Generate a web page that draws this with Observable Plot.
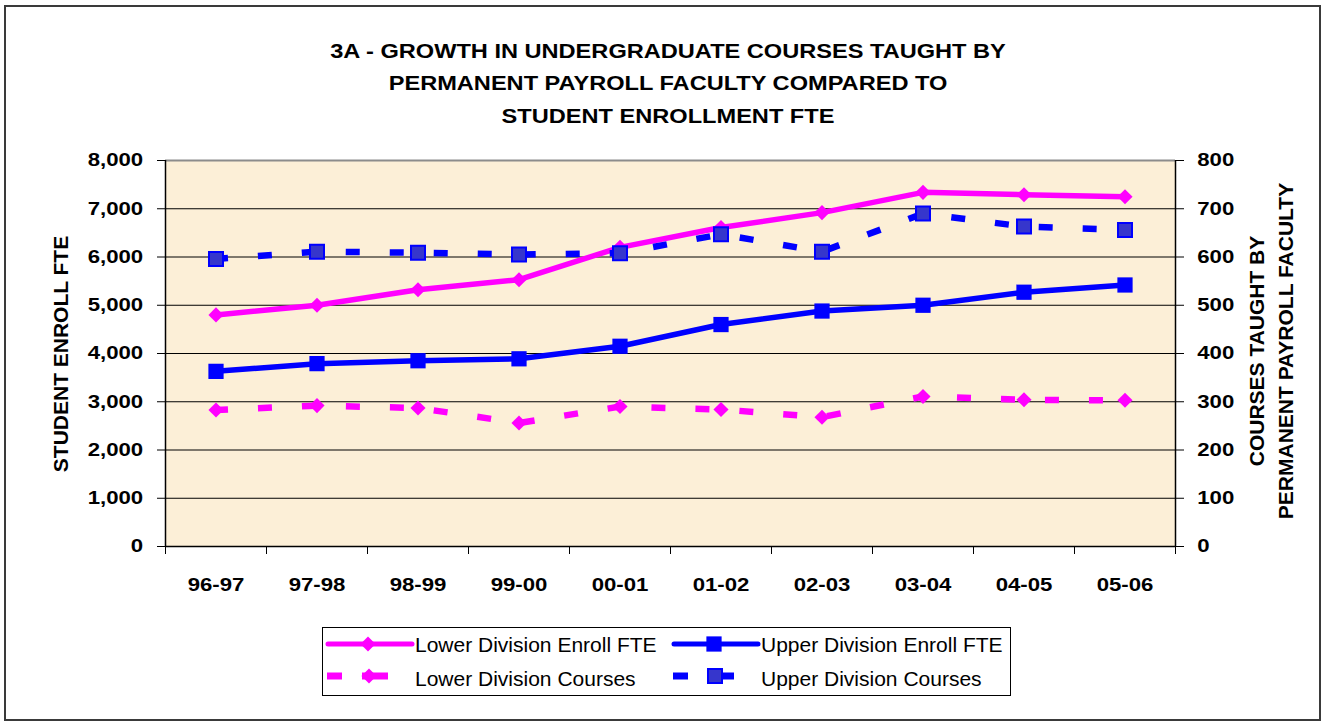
<!DOCTYPE html>
<html>
<head>
<meta charset="utf-8">
<script src="https://cdn.jsdelivr.net/npm/d3@7"></script>
<script src="https://cdn.jsdelivr.net/npm/@observablehq/plot@0.6"></script>
<style>
  body { margin: 0; background: #fff; }
  #wrap { position: relative; width: 1327px; height: 725px; overflow: hidden; font-family: "Liberation Sans", Arial, sans-serif; }
  #wrap svg.overlay { position: absolute; left: 0; top: 0; pointer-events: none; }
  #border { position: absolute; left: 4px; top: 5px; width: 1317px; height: 716px; border: 2px solid #3a3a3a; box-sizing: border-box; pointer-events: none; }
</style>
</head>
<body>
<div id="wrap"></div>
<script>
// ---- data ----
const years = ["96-97", "97-98", "98-99", "99-00", "00-01", "01-02", "02-03", "03-04", "04-05", "05-06"];
const lowerEnrollFTE = [4800, 5000, 5320, 5530, 6200, 6610, 6920, 7340, 7290, 7250];
const upperEnrollFTE = [3630, 3790, 3850, 3890, 4150, 4600, 4880, 5000, 5270, 5420];
const lowerCourses = [283, 292, 287, 256, 290, 284, 268, 311, 304, 303];
const upperCourses = [596, 611, 609, 605, 608, 647, 611, 690, 663, 656];
const leftTicks = [0, 1000, 2000, 3000, 4000, 5000, 6000, 7000, 8000];
const rightTicks = [0, 100, 200, 300, 400, 500, 600, 700, 800];
const seriesNames = ["Lower Division Enroll FTE", "Upper Division Enroll FTE", "Lower Division Courses", "Upper Division Courses"];
const titleLines = ["3A - GROWTH IN UNDERGRADUATE COURSES TAUGHT BY", "PERMANENT PAYROLL FACULTY COMPARED TO", "STUDENT ENROLLMENT FTE"];
const leftTitle = "STUDENT ENROLL FTE";
const rightTitleLines = ["COURSES TAUGHT BY", "PERMANENT PAYROLL FACULTY"];

// secondary axis (courses) mapped onto primary: 8000 / 800
const courseScale = leftTicks[leftTicks.length - 1] / rightTicks[rightTicks.length - 1];

const rows = years.map((year, i) => ({
  i, year,
  lowerEnroll: lowerEnrollFTE[i],
  upperEnroll: upperEnrollFTE[i],
  lowerCourses: lowerCourses[i] * courseScale,
  upperCourses: upperCourses[i] * courseScale
}));
const boundaries = d3.range(-0.5, years.length, 1);

const PINK = "#ff00ff", BLUE = "#0000ff", SQFILL = "#3636cc";
const FONT = "'Liberation Sans', Arial, sans-serif";

const plot = Plot.plot({
  width: 1327, height: 725,
  marginLeft: 165, marginRight: 152, marginTop: 160, marginBottom: 179,
  style: { background: "transparent", fontFamily: FONT, fontSize: "18.5px", fontWeight: "bold", color: "#000", overflow: "visible" },
  x: { domain: [-0.5, years.length - 0.5], label: null },
  y: { domain: [0, leftTicks[leftTicks.length - 1]], label: null },
  marks: [
    Plot.frame({ fill: "#fcefd7", stroke: null }),
    Plot.gridY({ ticks: leftTicks.filter((v, k) => k > 0 && k < leftTicks.length - 1), stroke: "#000", strokeOpacity: 1, strokeWidth: 1 }),
    Plot.ruleY([leftTicks[leftTicks.length - 1]], { stroke: "#8c8c8c", strokeWidth: 2 }),
    Plot.ruleY([0], { stroke: "#000", strokeWidth: 1.5 }),
    Plot.ruleX([boundaries[0], boundaries[boundaries.length - 1]], { stroke: "#000", strokeWidth: 1.5 }),

    Plot.line(rows, { x: "i", y: "lowerEnroll", stroke: PINK, strokeWidth: 5.5 }),
    Plot.dot(rows, { x: "i", y: "lowerEnroll", symbol: "diamond2", r: 6.8, fill: PINK }),

    Plot.line(rows, { x: "i", y: "upperEnroll", stroke: BLUE, strokeWidth: 5.5 }),
    Plot.dot(rows, { x: "i", y: "upperEnroll", symbol: "square", r: 8.6, fill: BLUE }),

    Plot.line(rows, { x: "i", y: "lowerCourses", stroke: PINK, strokeWidth: 6.5, strokeDasharray: "14,30", strokeDashoffset: 2, strokeLinecap: "butt" }),
    Plot.dot(rows, { x: "i", y: "lowerCourses", symbol: "diamond2", r: 6.8, fill: PINK }),

    Plot.line(rows, { x: "i", y: "upperCourses", stroke: BLUE, strokeWidth: 6.5, strokeDasharray: "14,30", strokeDashoffset: 2, strokeLinecap: "butt" }),
    Plot.dot(rows, { x: "i", y: "upperCourses", symbol: "square", r: 7.9, fill: SQFILL, stroke: BLUE, strokeWidth: 2 }),

    Plot.axisX({ ticks: boundaries, tickSize: 8, tickFormat: () => "", label: null }),
    Plot.axisX({ ticks: d3.range(years.length), tickSize: 0, tickPadding: 31.5, tickFormat: i => years[i], label: null }),
    Plot.axisY({ anchor: "left", ticks: leftTicks, tickSize: 8, tickPadding: 14.3, tickFormat: d3.format(","), label: null }),
    Plot.axisY({ anchor: "right", ticks: rightTicks.map(v => v * courseScale), tickSize: 8, tickPadding: 13.7, tickFormat: v => v / courseScale, label: null })
  ]
});
plot.style.position = "absolute";
plot.style.left = "0px";
plot.style.top = "0px";
// widen tick labels horizontally around their anchor (matches the wide bold rendering)
plot.querySelectorAll("text").forEach(t => {
  const tr = t.getAttribute("transform") || "";
  t.setAttribute("transform", (tr + " scale(1.2,1)").trim());
});

const wrap = document.getElementById("wrap");
wrap.appendChild(plot);

// ---- titles overlay ----
const ov = d3.create("svg").attr("class", "overlay").attr("width", 1327).attr("height", 725)
  .style("font-family", FONT).style("font-weight", "bold").attr("fill", "#000");
const titleBase = [57.7, 90.2, 122.7];
titleLines.forEach((s, k) => {
  ov.append("text").attr("text-anchor", "middle").attr("font-size", 20)
    .attr("transform", `translate(668,${titleBase[k]}) scale(1.18,1)`).text(s);
});
ov.append("text").attr("text-anchor", "middle").attr("font-size", 20)
  .attr("transform", "translate(67.5,354) rotate(-90) scale(1.05,1)").text(leftTitle);
const rightBase = [1264, 1292.5];
rightTitleLines.forEach((s, k) => {
  ov.append("text").attr("text-anchor", "middle").attr("font-size", 20)
    .attr("transform", `translate(${rightBase[k]},351) rotate(-90) scale(1.05,1)`).text(s);
});
wrap.appendChild(ov.node());

// ---- legend ----
const lg = d3.create("svg").attr("class", "overlay").attr("width", 690).attr("height", 70)
  .style("left", "322px").style("top", "627px").style("font-family", FONT);
lg.append("rect").attr("x", 0.5).attr("y", 0.5).attr("width", 688).attr("height", 68)
  .attr("fill", "#fff").attr("stroke", "#000").attr("stroke-width", 1);
const cols = [0, 346];
const rowsY = [17, 49];
const diamond = d3.symbol(d3.symbolDiamond2, Math.PI * 6.8 * 6.8)();
const square = d3.symbol(d3.symbolSquare, Math.PI * 8.6 * 8.6)();
const squareSm = d3.symbol(d3.symbolSquare, Math.PI * 7.9 * 7.9)();
const legendItems = [
  { col: 0, row: 0, color: PINK, dashed: false, marker: "diamond" },
  { col: 1, row: 0, color: BLUE, dashed: false, marker: "square" },
  { col: 0, row: 1, color: PINK, dashed: true, marker: "diamond" },
  { col: 1, row: 1, color: BLUE, dashed: true, marker: "squareOutline" }
];
legendItems.forEach((it, k) => {
  const x0 = cols[it.col], y = rowsY[it.row];
  const g = lg.append("g").attr("transform", `translate(${x0},${y})`);
  if (!it.dashed) {
    g.append("line").attr("x1", 6).attr("x2", 90).attr("y1", 0).attr("y2", 0)
      .attr("stroke", it.color).attr("stroke-width", 5).attr("stroke-linecap", "round");
  } else {
    g.append("rect").attr("x", 5).attr("y", -3.5).attr("width", 15).attr("height", 7).attr("fill", it.color);
    g.append("rect").attr("x", 40).attr("y", -3.5).attr("width", 26).attr("height", 7).attr("fill", it.color);
  }
  const mx = it.dashed ? 47 : 46;
  if (it.marker === "diamond") {
    g.append("path").attr("d", diamond).attr("transform", `translate(${mx},0)`).attr("fill", it.color);
  } else if (it.marker === "square") {
    g.append("path").attr("d", square).attr("transform", `translate(${mx},0)`).attr("fill", it.color);
  } else {
    g.append("path").attr("d", squareSm).attr("transform", `translate(${mx},0)`).attr("fill", SQFILL).attr("stroke", BLUE).attr("stroke-width", 2);
  }
  lg.append("text").attr("x", x0 + 93).attr("y", it.row === 0 ? 25 : 59)
    .attr("font-size", 21).attr("fill", "#000").text(seriesNames[k]);
});
wrap.appendChild(lg.node());

const border = document.createElement("div");
border.id = "border";
wrap.appendChild(border);
</script>
</body>
</html>
